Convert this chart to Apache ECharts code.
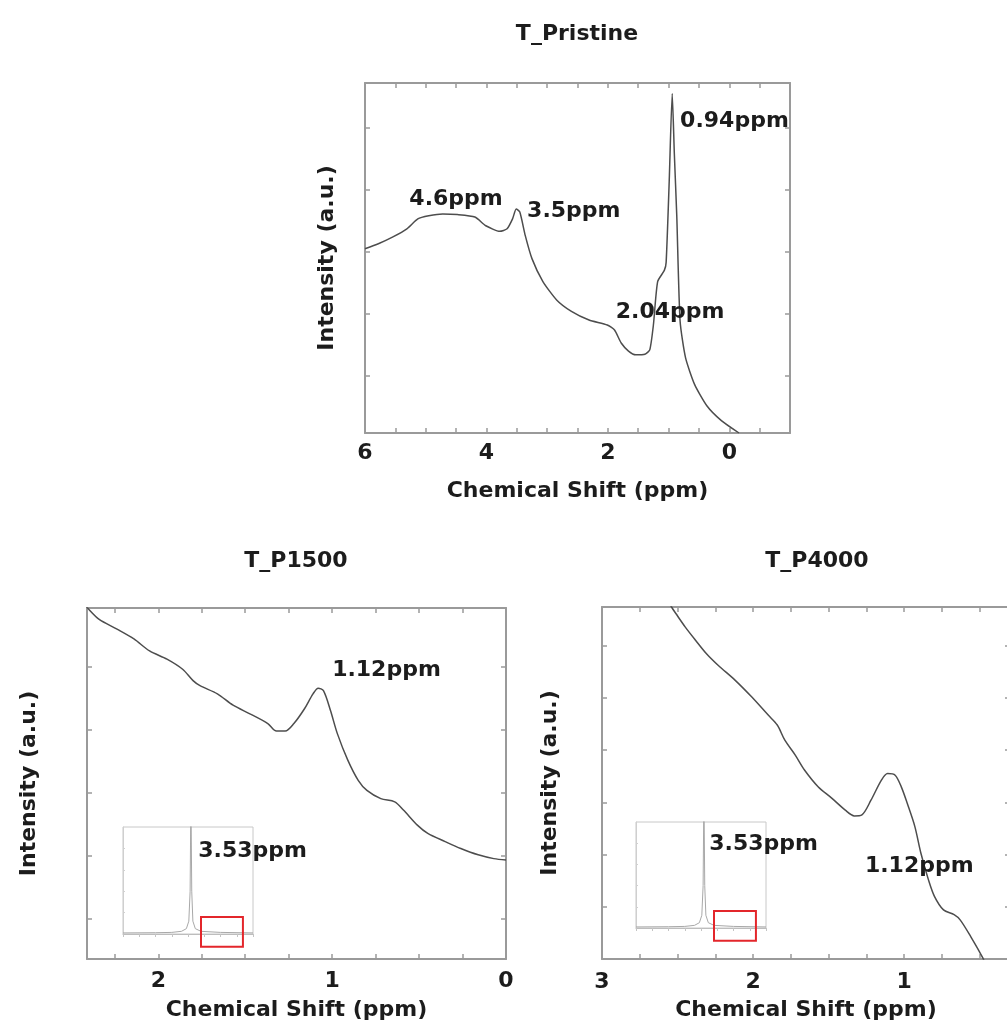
<!DOCTYPE html>
<html>
<head>
<meta charset="utf-8">
<title>NMR spectra</title>
<script src="https://cdn.jsdelivr.net/npm/echarts@6/dist/echarts.min.js"></script>
<style>
html, body { margin: 0; padding: 0; background: #fff; overflow: hidden; }
#chart { width: 1007px; height: 1032px; }
</style>
</head>
<body>
<div id="chart"></div>
<script>
// T_Pristine spectrum (ppm, a.u.)
const pristinePpm = [6.00, 5.78, 5.54, 5.31, 5.13, 4.95, 4.72, 4.48, 4.19, 4.01, 3.78, 3.66, 3.57, 3.51, 3.45, 3.36, 3.25, 3.07, 2.84, 2.60, 2.31, 2.01, 1.89, 1.78, 1.66, 1.54, 1.39, 1.31, 1.25, 1.18, 1.07, 1.04, 0.99, 0.94, 0.905, 0.865, 0.81, 0.72, 0.57, 0.37, 0.13, -0.16]
const pristineIntensity = [2.97, 3.05, 3.16, 3.29, 3.45, 3.50, 3.53, 3.52, 3.48, 3.34, 3.25, 3.29, 3.45, 3.61, 3.56, 3.18, 2.81, 2.44, 2.14, 1.96, 1.82, 1.74, 1.66, 1.45, 1.32, 1.26, 1.27, 1.34, 1.74, 2.44, 2.62, 2.75, 4.04, 5.47, 4.50, 3.50, 1.80, 1.21, 0.78, 0.44, 0.20, 0.00]

// T_P1500 spectrum
const p1500Ppm = [2.45, 2.40, 2.34, 2.24, 2.14, 2.05, 1.95, 1.86, 1.80, 1.76, 1.66, 1.57, 1.47, 1.37, 1.32, 1.27, 1.22, 1.16, 1.11, 1.08, 1.05, 1.01, 0.97, 0.91, 0.85, 0.80, 0.72, 0.64, 0.59, 0.51, 0.45, 0.35, 0.26, 0.16, 0.07, 0.00]
const p1500Intensity = [5.70, 5.54, 5.38, 5.23, 5.07, 4.88, 4.75, 4.59, 4.41, 4.33, 4.20, 4.02, 3.88, 3.73, 3.61, 3.61, 3.73, 3.96, 4.20, 4.29, 4.25, 3.94, 3.57, 3.15, 2.83, 2.67, 2.54, 2.49, 2.36, 2.12, 1.99, 1.86, 1.75, 1.65, 1.59, 1.57]

// T_P4000 spectrum
const p4000Ppm = [2.58, 2.54, 2.51, 2.45, 2.38, 2.31, 2.23, 2.12, 2.01, 1.90, 1.84, 1.79, 1.72, 1.66, 1.57, 1.48, 1.39, 1.33, 1.28, 1.22, 1.15, 1.11, 1.06, 1.02, 0.98, 0.93, 0.89, 0.84, 0.80, 0.74, 0.67, 0.63, 0.56, 0.48, 0.45]
const p4000Intensity = [6.95, 6.74, 6.61, 6.36, 6.10, 5.85, 5.62, 5.34, 5.02, 4.67, 4.48, 4.19, 3.90, 3.62, 3.30, 3.08, 2.85, 2.74, 2.76, 3.04, 3.43, 3.55, 3.52, 3.30, 2.98, 2.54, 2.03, 1.52, 1.20, 0.94, 0.85, 0.75, 0.43, 0.02, -0.20]

// small full-range inset spectrum (same in both lower panels)
const insetPpm = [8.0, 6.0, 5.0, 4.4, 4.1, 3.95, 3.87, 3.82, 3.77, 3.70, 3.55, 3.20, 2.0, 0.0]
const insetIntensity = [0.10, 0.12, 0.15, 0.25, 0.50, 1.20, 4.0, 13.0, 4.0, 1.20, 0.50, 0.25, 0.15, 0.10]
const insetBox = [3.2, -1.2, 0.62, 1.6] // red zoom rectangle [x1, y1, x2, y2]

// ticks and tick labels
const pristineXTicks = [-1, -0.5, 0, 0.5, 1, 1.5, 2, 2.5, 3, 3.5, 4, 4.5, 5, 5.5, 6]
const pristineXLabels = [0, 2, 4, 6]
const pristineYTicks = [0.92, 1.92, 2.92, 3.92, 4.92]
const p1500XTicks = [0, 0.25, 0.5, 0.75, 1, 1.25, 1.5, 1.75, 2, 2.25]
const p1500XLabels = [0, 1, 2]
const p1500YTicks = [0.63, 1.63, 2.63, 3.63, 4.63]
const p4000XTicks = [0.5, 0.75, 1, 1.25, 1.5, 1.75, 2, 2.25, 2.5, 2.75, 3]
const p4000XLabels = [1, 2, 3]
const p4000YTicks = [1, 2, 3, 4, 5, 6]
const insetXTicks = [0, 1, 2, 3, 4, 5, 6, 7, 8]
const insetYTicks = [2, 4, 6, 8]

// peak annotations
const pristineNotes = ['4.6ppm', '3.5ppm', '0.94ppm', '2.04ppm']
const pristineNoteAt = [[5.27, 3.77], [3.33, 3.58], [0.81, 5.02], [1.87, 1.95]]
const p1500Notes = ['1.12ppm', '3.53ppm']
const p1500NoteAt = [[1.0, 4.58], [1.77, 1.71]]
const p4000Notes = ['3.53ppm', '1.12ppm']
const p4000NoteAt = [[2.29, 2.2], [1.26, 1.78]]

const frameColor = '#9a9a9a'
const curveColor = '#4d4d4d'
const textColor = '#1c1c1c'
const fontFamily = 'DejaVu Sans'
const textStyle = { color: textColor, fontFamily, fontWeight: 'bold', fontSize: 22 }

const zip = (xs, ys) => xs.map((x, i) => [x, ys[i]])

// x axis of a main panel; mirror = top edge, ticks only
function makeX(gridIndex, min, max, ticks, labels, mirror, nameGap, margin) {
  return {
    type: 'value', gridIndex, min, max, inverse: true,
    position: mirror ? 'top' : 'bottom',
    name: mirror ? '' : 'Chemical Shift (ppm)',
    nameLocation: 'middle', nameGap,
    nameTextStyle: textStyle,
    axisLine: { show: true, onZero: false, lineStyle: { color: frameColor, width: 2 } },
    axisTick: { show: true, inside: true, length: 5, customValues: ticks, lineStyle: { color: frameColor, width: 1.5 } },
    axisLabel: { show: !mirror, customValues: labels, margin, ...textStyle, formatter: (v) => String(v) },
    splitLine: { show: false },
  }
}

function makeY(gridIndex, min, max, ticks, mirror, nameGap) {
  return {
    type: 'value', gridIndex, min, max,
    position: mirror ? 'right' : 'left',
    name: mirror ? '' : 'Intensity (a.u.)',
    nameLocation: 'middle', nameGap,
    nameTextStyle: textStyle,
    axisLine: { show: true, onZero: false, lineStyle: { color: frameColor, width: 2 } },
    axisTick: { show: true, inside: true, length: 5, customValues: ticks, lineStyle: { color: frameColor, width: 1.5 } },
    axisLabel: { show: false },
    splitLine: { show: false },
  }
}

function insetX(gridIndex) {
  return {
    type: 'value', gridIndex, min: 0, max: 8, inverse: true,
    axisLine: { show: true, onZero: false, lineStyle: { color: '#bdbdbd', width: 1 } },
    axisTick: { show: true, inside: false, length: 3, customValues: insetXTicks, lineStyle: { color: '#c4c4c4' } },
    axisLabel: { show: false },
    splitLine: { show: false },
  }
}

function insetY(gridIndex) {
  return {
    type: 'value', gridIndex, min: 0, max: 10,
    axisLine: { show: true, onZero: false, lineStyle: { color: '#cfcfcf', width: 1 } },
    axisTick: { show: true, inside: true, length: 2, customValues: insetYTicks, lineStyle: { color: '#d0d0d0' } },
    axisLabel: { show: false },
    splitLine: { show: false },
  }
}

function curve(xi, yi, data, color, width, z, smooth) {
  return {
    type: 'line', xAxisIndex: xi, yAxisIndex: yi, data,
    showSymbol: false, symbol: 'none', smooth,
    clip: true, silent: true, z,
    lineStyle: { color, width },
  }
}

function notes(xi, yi, at, texts) {
  return {
    type: 'scatter', xAxisIndex: xi, yAxisIndex: yi, symbolSize: 0, silent: true, z: 20,
    itemStyle: { opacity: 1 },
    data: at.map((p, i) => ({ value: p, name: texts[i] })),
    label: { show: true, position: 'right', distance: 0, formatter: '{b}', ...textStyle },
  }
}

function zoomBox(xi, yi) {
  return {
    type: 'custom', xAxisIndex: xi, yAxisIndex: yi, silent: true, clip: false, z: 15,
    data: [insetBox],
    renderItem(params, api) {
      const a = api.coord([api.value(0), api.value(1)])
      const b = api.coord([api.value(2), api.value(3)])
      return {
        type: 'rect',
        shape: { x: Math.min(a[0], b[0]), y: Math.min(a[1], b[1]), width: Math.abs(a[0] - b[0]), height: Math.abs(a[1] - b[1]) },
        style: { fill: 'none', stroke: '#e3262b', lineWidth: 2 },
      }
    },
  }
}

const chart = echarts.init(document.getElementById('chart'), null, { renderer: 'canvas' })

const option = {
  backgroundColor: '#fff',
  animation: false,
  title: [
    { text: 'T_Pristine', left: 572, top: 18, textAlign: 'center', textStyle },
    { text: 'T_P1500', left: 291, top: 545, textAlign: 'center', textStyle },
    { text: 'T_P4000', left: 812, top: 545, textAlign: 'center', textStyle },
  ],
  grid: [
    { left: 365, top: 83, width: 425, height: 350, outerBoundsMode: 'none' },
    { left: 87, top: 608, width: 419, height: 351, outerBoundsMode: 'none' },
    { left: 602, top: 607, width: 408, height: 352, outerBoundsMode: 'none' },
    { left: 123, top: 827, width: 130, height: 107, show: true, borderColor: '#c8c8c8', borderWidth: 1, outerBoundsMode: 'none' },
    { left: 636, top: 822, width: 130, height: 106, show: true, borderColor: '#c8c8c8', borderWidth: 1, outerBoundsMode: 'none' },
  ],
  xAxis: [
    makeX(0, -1, 6, pristineXTicks, pristineXLabels, false, 47, 9),
    makeX(0, -1, 6, pristineXTicks, pristineXLabels, true),
    makeX(1, 0, 2.41, p1500XTicks, p1500XLabels, false, 40, 11),
    makeX(1, 0, 2.41, p1500XTicks, p1500XLabels, true),
    makeX(2, 0.3, 3, p4000XTicks, p4000XLabels, false, 40, 12),
    makeX(2, 0.3, 3, p4000XTicks, p4000XLabels, true),
    insetX(3),
    insetX(4),
  ],
  yAxis: [
    makeY(0, 0, 5.64, pristineYTicks, false, 27),
    makeY(0, 0, 5.64, pristineYTicks, true),
    makeY(1, 0, 5.56, p1500YTicks, false, 47),
    makeY(1, 0, 5.56, p1500YTicks, true),
    makeY(2, 0, 6.74, p4000YTicks, false, 41),
    makeY(2, 0, 6.74, p4000YTicks, true),
    insetY(3),
    insetY(4),
  ],
  series: [
    curve(0, 0, zip(pristinePpm, pristineIntensity), curveColor, 1.5, 5, 0.2),
    notes(0, 0, pristineNoteAt, pristineNotes),
    curve(2, 2, zip(p1500Ppm, p1500Intensity), curveColor, 1.5, 5, 0.3),
    notes(2, 2, p1500NoteAt, p1500Notes),
    curve(4, 4, zip(p4000Ppm, p4000Intensity), curveColor, 1.5, 5, 0.3),
    notes(4, 4, p4000NoteAt, p4000Notes),
    curve(6, 6, zip(insetPpm, insetIntensity), '#a8a8a8', 1, 6, false),
    zoomBox(6, 6),
    curve(7, 7, zip(insetPpm, insetIntensity), '#a8a8a8', 1, 6, false),
    zoomBox(7, 7),
  ],
}

chart.setOption(option)
</script>
</body>
</html>
